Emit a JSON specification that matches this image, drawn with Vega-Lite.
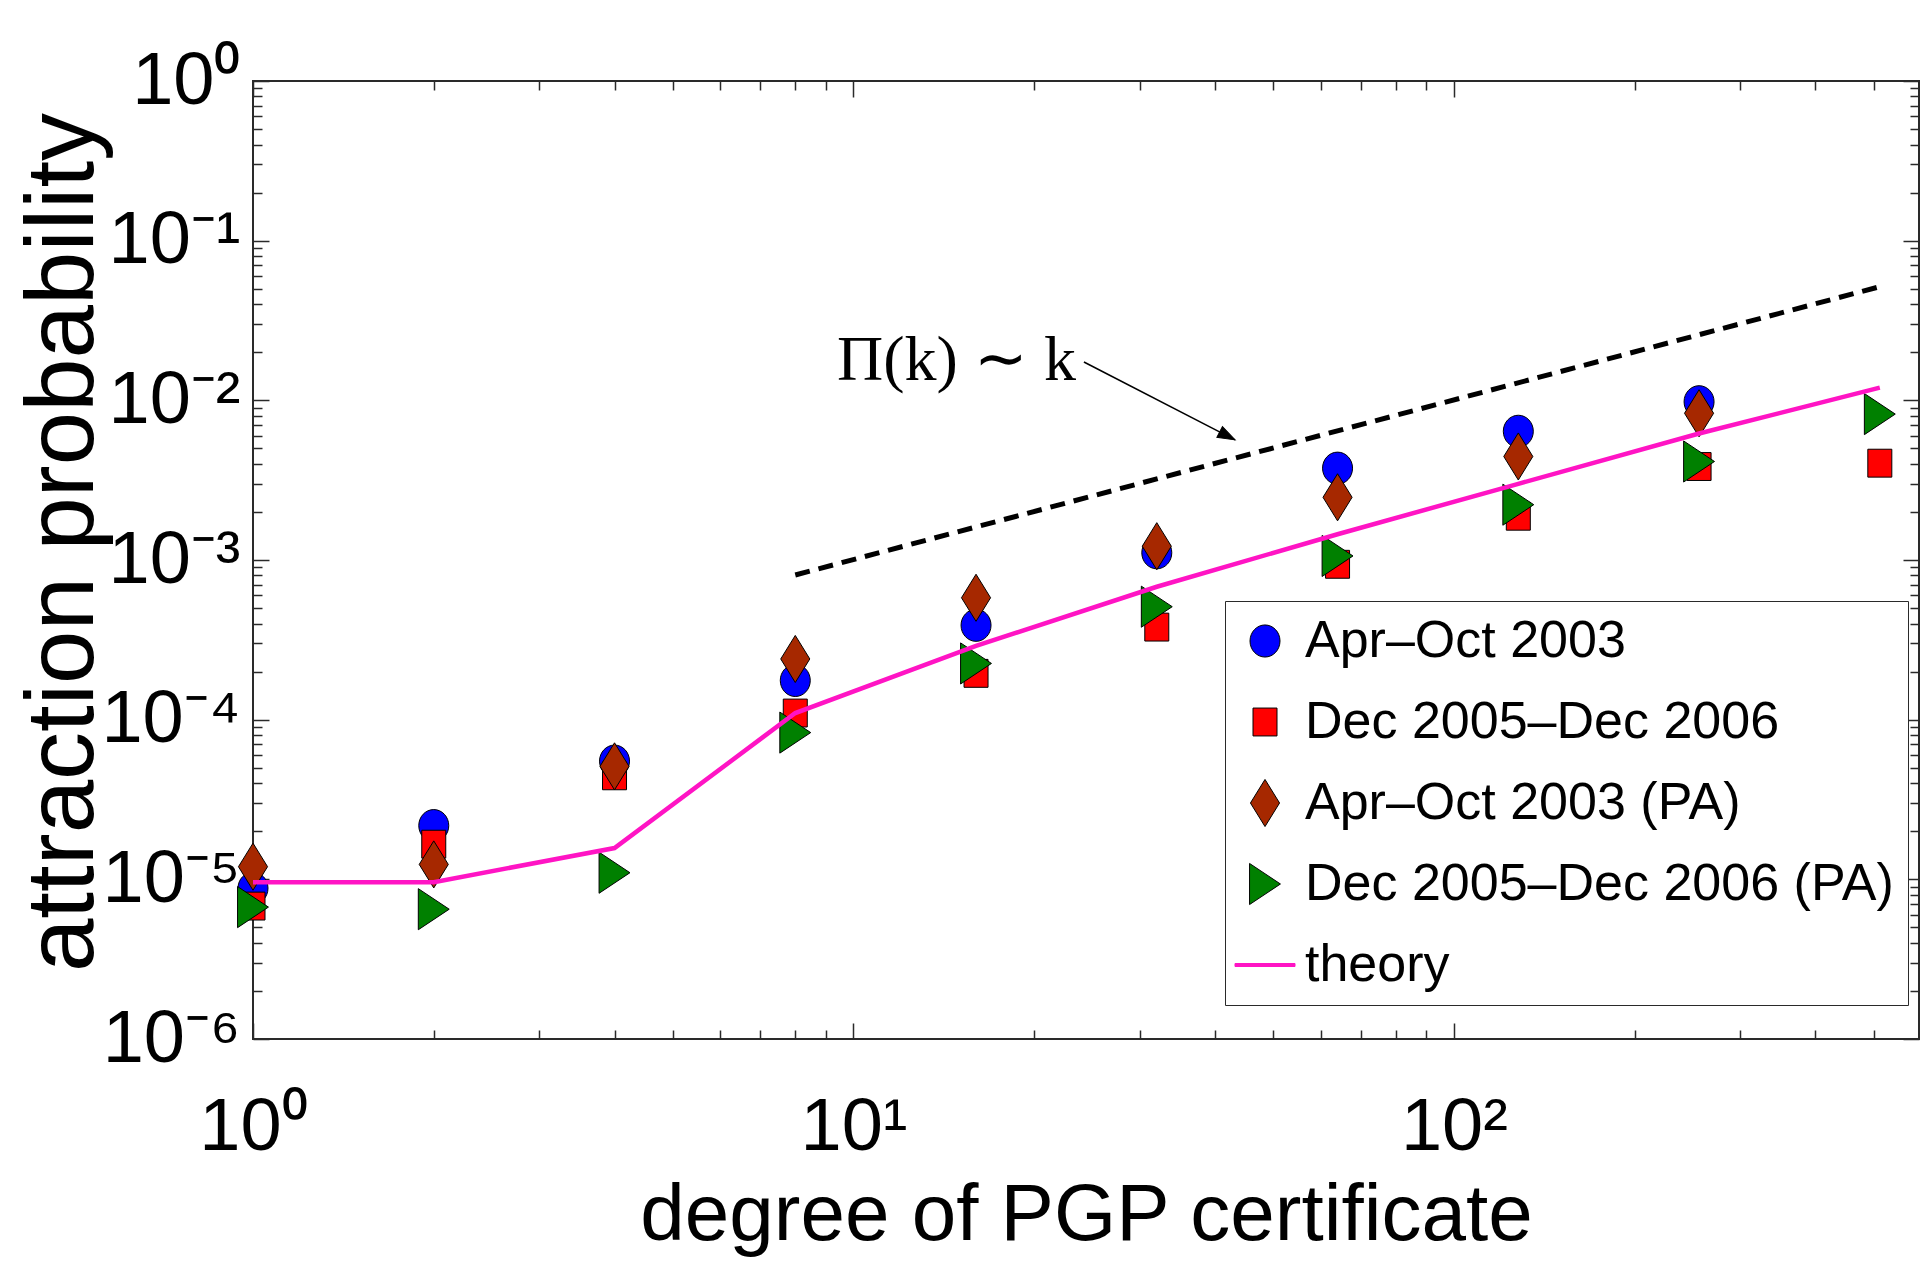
{
  "$schema": "https://vega.github.io/schema/vega-lite/v6.json",
  "width": 1666,
  "height": 958,
  "autosize": {"type": "none"},
  "padding": {"left": 253, "top": 81, "right": 2, "bottom": 233},
  "background": "white",
  "config": {
    "view": {"stroke": "#2a2a2a", "strokeWidth": 2},
    "font": "Liberation Sans"
  },
  "datasets": {
    "points": [
      {"series": "Apr–Oct 2003", "k": 1, "p": 8.8e-6},
      {"series": "Apr–Oct 2003", "k": 2, "p": 2.17e-5},
      {"series": "Apr–Oct 2003", "k": 4, "p": 5.5e-5},
      {"series": "Apr–Oct 2003", "k": 8, "p": 1.76e-4},
      {"series": "Apr–Oct 2003", "k": 16, "p": 3.9e-4},
      {"series": "Apr–Oct 2003", "k": 32, "p": 1.11e-3},
      {"series": "Apr–Oct 2003", "k": 64, "p": 3.76e-3},
      {"series": "Apr–Oct 2003", "k": 128, "p": 6.4e-3},
      {"series": "Apr–Oct 2003", "k": 256, "p": 9.8e-3},
      {"series": "Dec 2005–Dec 2006", "k": 1, "p": 6.8e-6},
      {"series": "Dec 2005–Dec 2006", "k": 2, "p": 1.66e-5},
      {"series": "Dec 2005–Dec 2006", "k": 4, "p": 4.45e-5},
      {"series": "Dec 2005–Dec 2006", "k": 8, "p": 1.1e-4},
      {"series": "Dec 2005–Dec 2006", "k": 16, "p": 1.95e-4},
      {"series": "Dec 2005–Dec 2006", "k": 32, "p": 3.8e-4},
      {"series": "Dec 2005–Dec 2006", "k": 64, "p": 9.4e-4},
      {"series": "Dec 2005–Dec 2006", "k": 128, "p": 1.88e-3},
      {"series": "Dec 2005–Dec 2006", "k": 256, "p": 3.85e-3},
      {"series": "Dec 2005–Dec 2006", "k": 512, "p": 4.04e-3},
      {"series": "Apr–Oct 2003 (PA)", "k": 1, "p": 1.2e-5},
      {"series": "Apr–Oct 2003 (PA)", "k": 2, "p": 1.24e-5},
      {"series": "Apr–Oct 2003 (PA)", "k": 4, "p": 5.1e-5},
      {"series": "Apr–Oct 2003 (PA)", "k": 8, "p": 2.4e-4},
      {"series": "Apr–Oct 2003 (PA)", "k": 16, "p": 5.8e-4},
      {"series": "Apr–Oct 2003 (PA)", "k": 32, "p": 1.22e-3},
      {"series": "Apr–Oct 2003 (PA)", "k": 64, "p": 2.47e-3},
      {"series": "Apr–Oct 2003 (PA)", "k": 128, "p": 4.45e-3},
      {"series": "Apr–Oct 2003 (PA)", "k": 256, "p": 8.3e-3},
      {"series": "Dec 2005–Dec 2006 (PA)", "k": 1, "p": 6.7e-6},
      {"series": "Dec 2005–Dec 2006 (PA)", "k": 2, "p": 6.5e-6},
      {"series": "Dec 2005–Dec 2006 (PA)", "k": 4, "p": 1.1e-5},
      {"series": "Dec 2005–Dec 2006 (PA)", "k": 8, "p": 8.3e-5},
      {"series": "Dec 2005–Dec 2006 (PA)", "k": 16, "p": 2.25e-4},
      {"series": "Dec 2005–Dec 2006 (PA)", "k": 32, "p": 5.1e-4},
      {"series": "Dec 2005–Dec 2006 (PA)", "k": 64, "p": 1.06e-3},
      {"series": "Dec 2005–Dec 2006 (PA)", "k": 128, "p": 2.22e-3},
      {"series": "Dec 2005–Dec 2006 (PA)", "k": 256, "p": 4.14e-3},
      {"series": "Dec 2005–Dec 2006 (PA)", "k": 512, "p": 8.2e-3}
    ],
    "theory": [
      {"k": 1, "p": 9.6e-6},
      {"k": 2, "p": 9.6e-6},
      {"k": 4, "p": 1.57e-5},
      {"k": 8, "p": 1.1e-4},
      {"k": 16, "p": 2.9e-4},
      {"k": 32, "p": 6.8e-4},
      {"k": 64, "p": 1.45e-3},
      {"k": 128, "p": 3.0e-3},
      {"k": 256, "p": 6.2e-3},
      {"k": 512, "p": 1.2e-2}
    ],
    "guide": [
      {"k": 8, "p": 8.05e-4},
      {"k": 512, "p": 0.0515}
    ],
    "arrow": [
      {"k": 24.2, "p": 0.01738, "k2": 43.2, "p2": 0.00565}
    ],
    "note": [
      {"k": 9.39, "p": 0.01341, "label": "Π(k)  ∼  k"}
    ]
  },
  "layer": [
    {
      "data": {"name": "guide"},
      "mark": {"type": "line", "stroke": "black", "strokeWidth": 5, "strokeDash": [15, 9], "strokeCap": "butt"},
      "encoding": {
        "x": {
          "field": "k", "type": "quantitative",
          "scale": {"type": "log", "domain": [1, 595], "nice": false},
          "axis": {
            "orient": "bottom",
            "values": [1, 2, 3, 4, 5, 6, 7, 8, 9, 10, 20, 30, 40, 50, 60, 70, 80, 90, 100, 200, 300, 400, 500],
            "grid": false, "domain": false,
            "tickColor": "#2a2a2a", "tickWidth": 1.5,
            "tickSize": {"condition": {"test": "datum.value == 1 || datum.value == 10 || datum.value == 100", "value": -16}, "value": -9},
            "labelExpr": "datum.value == 1 ? '10⁰' : (datum.value == 10 ? '10¹' : (datum.value == 100 ? '10²' : ''))",
            "labelFont": "Liberation Sans",
            "labelFontSize": 74, "labelColor": "black",
            "labelPadding": 68, "labelOverlap": false, "labelFlush": false, "labelBound": false,
            "title": "degree of PGP certificate",
            "titleFont": "Liberation Sans",
            "titleFontSize": 80, "titleFontWeight": "normal", "titleColor": "black",
            "titleX": 833, "titleY": 200, "titleBaseline": "alphabetic", "titleAlign": "center"
          }
        },
        "y": {
          "field": "p", "type": "quantitative",
          "scale": {"type": "log", "domain": [1e-6, 1], "nice": false},
          "axis": {
            "orient": "left",
            "values": [1e-6, 2e-6, 3e-6, 4e-6, 5e-6, 6e-6, 7e-6, 8e-6, 9e-6, 1e-5, 2e-5, 3e-5, 4e-5, 5e-5, 6e-5, 7e-5, 8e-5, 9e-5, 1e-4, 2e-4, 3e-4, 4e-4, 5e-4, 6e-4, 7e-4, 8e-4, 9e-4, 0.001, 0.002, 0.003, 0.004, 0.005, 0.006, 0.007, 0.008, 0.009, 0.01, 0.02, 0.03, 0.04, 0.05, 0.06, 0.07, 0.08, 0.09, 0.1, 0.2, 0.3, 0.4, 0.5, 0.6, 0.7, 0.8, 0.9, 1],
            "grid": false, "domain": false,
            "tickColor": "#2a2a2a", "tickWidth": 1.5,
            "tickSize": {"condition": {"test": "abs(log(datum.value)/LN10 - round(log(datum.value)/LN10)) < 0.0001", "value": -16}, "value": -9},
            "labelExpr": "abs(log(datum.value)/LN10 - round(log(datum.value)/LN10)) < 0.0001 ? '10' + (round(log(datum.value)/LN10) < 0 ? '⁻' : '') + ['⁰','¹','²','³','⁴','⁵','⁶'][abs(round(log(datum.value)/LN10))] : ''",
            "labelFont": "Liberation Sans",
            "labelFontSize": 74, "labelColor": "black",
            "labelPadding": 29, "labelOverlap": false, "labelFlush": false, "labelBound": false,
            "title": "attraction probability",
            "titleFont": "Liberation Sans",
            "titleFontSize": 96, "titleFontWeight": "normal", "titleColor": "black",
            "titleX": -161, "titleY": 461, "titleAngle": 270, "titleBaseline": "alphabetic", "titleAlign": "center"
          }
        }
      }
    },
    {
      "data": {"name": "points"},
      "mark": {"type": "point", "filled": true, "size": 900, "strokeWidth": 1, "opacity": 1},
      "encoding": {
        "x": {
          "field": "k", "type": "quantitative",
          "scale": {"type": "log", "domain": [1, 595], "nice": false},
          "axis": {
            "orient": "top",
            "values": [1, 2, 3, 4, 5, 6, 7, 8, 9, 10, 20, 30, 40, 50, 60, 70, 80, 90, 100, 200, 300, 400, 500],
            "grid": false, "domain": false, "labels": false, "title": null,
            "tickColor": "#2a2a2a", "tickWidth": 1.5,
            "tickSize": {"condition": {"test": "datum.value == 1 || datum.value == 10 || datum.value == 100", "value": -16}, "value": -9}
          }
        },
        "y": {
          "field": "p", "type": "quantitative",
          "scale": {"type": "log", "domain": [1e-6, 1], "nice": false},
          "axis": {
            "orient": "right",
            "values": [1e-6, 2e-6, 3e-6, 4e-6, 5e-6, 6e-6, 7e-6, 8e-6, 9e-6, 1e-5, 2e-5, 3e-5, 4e-5, 5e-5, 6e-5, 7e-5, 8e-5, 9e-5, 1e-4, 2e-4, 3e-4, 4e-4, 5e-4, 6e-4, 7e-4, 8e-4, 9e-4, 0.001, 0.002, 0.003, 0.004, 0.005, 0.006, 0.007, 0.008, 0.009, 0.01, 0.02, 0.03, 0.04, 0.05, 0.06, 0.07, 0.08, 0.09, 0.1, 0.2, 0.3, 0.4, 0.5, 0.6, 0.7, 0.8, 0.9, 1],
            "grid": false, "domain": false, "labels": false, "title": null,
            "tickColor": "#2a2a2a", "tickWidth": 1.5,
            "tickSize": {"condition": {"test": "abs(log(datum.value)/LN10 - round(log(datum.value)/LN10)) < 0.0001", "value": -16}, "value": -9}
          }
        },
        "fill": {
          "field": "series", "type": "nominal",
          "scale": {
            "domain": ["Apr–Oct 2003", "Dec 2005–Dec 2006", "Apr–Oct 2003 (PA)", "Dec 2005–Dec 2006 (PA)", "theory"],
            "range": ["#0000ff", "#ff0000", "#a62800", "#008000", "#ff14c4"]
          },
          "legend": {
            "orient": "none", "legendX": 972, "legendY": 520, "title": null, "direction": "vertical",
            "symbolSize": 900, "symbolOffset": 0, "labelOffset": 14, "symbolStrokeWidth": 1,
            "labelFont": "Liberation Sans", "labelFontSize": 52, "labelLimit": 1000, "labelColor": "black",
            "rowPadding": 29, "padding": 14, "strokeColor": "#2a2a2a", "fillColor": "white"
          }
        },
        "stroke": {
          "field": "series", "type": "nominal",
          "scale": {
            "domain": ["Apr–Oct 2003", "Dec 2005–Dec 2006", "Apr–Oct 2003 (PA)", "Dec 2005–Dec 2006 (PA)", "theory"],
            "range": ["black", "black", "black", "black", "#ff14c4"]
          },
          "legend": {
            "orient": "none", "legendX": 972, "legendY": 520, "title": null, "direction": "vertical",
            "symbolSize": 900, "symbolOffset": 0, "labelOffset": 14, "symbolStrokeWidth": 1,
            "labelFont": "Liberation Sans", "labelFontSize": 52, "labelLimit": 1000, "labelColor": "black",
            "rowPadding": 29, "padding": 14, "strokeColor": "#2a2a2a", "fillColor": "white"
          }
        },
        "shape": {
          "field": "series", "type": "nominal",
          "scale": {
            "domain": ["Apr–Oct 2003", "Dec 2005–Dec 2006", "Apr–Oct 2003 (PA)", "Dec 2005–Dec 2006 (PA)", "theory"],
            "range": [
              "M0,-1.07A1,1.07 0 1,1 0,1.07A1,1.07 0 1,1 0,-1.07Z",
              "M-0.8,-0.93L0.8,-0.93L0.8,0.93L-0.8,0.93Z",
              "M0,-1.57L0.97,0L0,1.57L-0.97,0Z",
              "M-1.03,-1.37L1.03,0L-1.03,1.37Z",
              "M-2,-0.1L2,-0.1L2,0.1L-2,0.1Z"
            ]
          },
          "legend": {
            "orient": "none", "legendX": 972, "legendY": 520, "title": null, "direction": "vertical",
            "symbolSize": 900, "symbolOffset": 0, "labelOffset": 14, "symbolStrokeWidth": 1,
            "labelFont": "Liberation Sans", "labelFontSize": 52, "labelLimit": 1000, "labelColor": "black",
            "rowPadding": 29, "padding": 14, "strokeColor": "#2a2a2a", "fillColor": "white"
          }
        }
      }
    },
    {
      "data": {"name": "theory"},
      "mark": {"type": "line", "stroke": "#ff14c4", "strokeWidth": 4.5},
      "encoding": {
        "x": {"field": "k", "type": "quantitative", "scale": {"type": "log", "domain": [1, 595], "nice": false}, "axis": null},
        "y": {"field": "p", "type": "quantitative", "scale": {"type": "log", "domain": [1e-6, 1], "nice": false}, "axis": null}
      }
    },
    {
      "data": {"name": "arrow"},
      "mark": {"type": "rule", "stroke": "black", "strokeWidth": 1.5},
      "encoding": {
        "x": {"field": "k", "type": "quantitative", "scale": {"type": "log", "domain": [1, 595], "nice": false}, "axis": null},
        "y": {"field": "p", "type": "quantitative", "scale": {"type": "log", "domain": [1e-6, 1], "nice": false}, "axis": null},
        "x2": {"field": "k2"},
        "y2": {"field": "p2"}
      }
    },
    {
      "data": {"name": "arrow"},
      "mark": {"type": "point", "filled": true, "fill": "black", "stroke": "black", "strokeWidth": 1, "opacity": 1, "size": 300, "angle": 27.3, "shape": "M0,0L-2,-0.7L-2,0.7Z"},
      "encoding": {
        "x": {"field": "k2", "type": "quantitative", "scale": {"type": "log", "domain": [1, 595], "nice": false}, "axis": null},
        "y": {"field": "p2", "type": "quantitative", "scale": {"type": "log", "domain": [1e-6, 1], "nice": false}, "axis": null}
      }
    },
    {
      "data": {"name": "note"},
      "mark": {"type": "text", "align": "left", "baseline": "alphabetic", "font": "Liberation Serif", "fontSize": 64, "color": "black"},
      "encoding": {
        "x": {"field": "k", "type": "quantitative", "scale": {"type": "log", "domain": [1, 595], "nice": false}, "axis": null},
        "y": {"field": "p", "type": "quantitative", "scale": {"type": "log", "domain": [1e-6, 1], "nice": false}, "axis": null},
        "text": {"field": "label"}
      }
    }
  ],
  "resolve": {"axis": {"x": "independent", "y": "independent"}}
}
